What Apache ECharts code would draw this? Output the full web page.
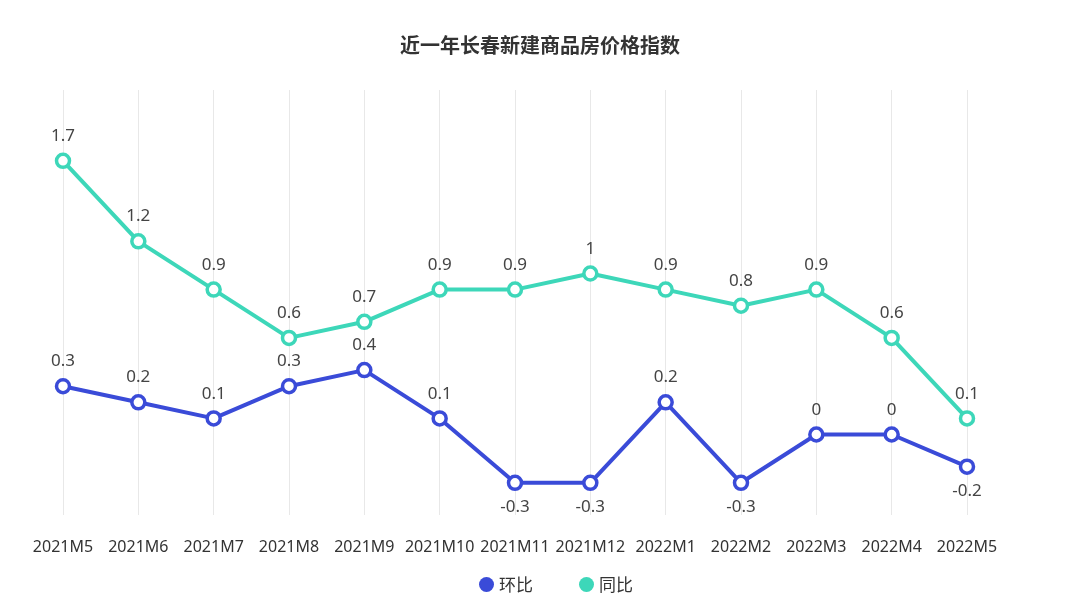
<!DOCTYPE html>
<html>
<head>
<meta charset="utf-8">
<script src="https://cdn.jsdelivr.net/npm/echarts@6/dist/echarts.min.js"></script>
<style>
  html, body { margin: 0; padding: 0; background: #fff; }
  #chart { width: 1080px; height: 608px; }
</style>
</head>
<body>
<div id="chart"></div>
<script>
const months = ['2021M5', '2021M6', '2021M7', '2021M8', '2021M9', '2021M10', '2021M11',
  '2021M12', '2022M1', '2022M2', '2022M3', '2022M4', '2022M5']
const momValues = [0.3, 0.2, 0.1, 0.3, 0.4, 0.1, -0.3, -0.3, 0.2, -0.3, 0, 0, -0.2]
const yoyValues = [1.7, 1.2, 0.9, 0.6, 0.7, 0.9, 0.9, 1, 0.9, 0.8, 0.9, 0.6, 0.1]

const MOM_COLOR = '#3a4bd8'
const YOY_COLOR = '#3dd7b9'

const chart = echarts.init(document.getElementById('chart'))

const toItems = values => values.map(v => ({
  value: v,
  label: { position: v < 0 ? 'bottom' : 'top' }
}))

const lineSeries = (name, values, color) => ({
  name,
  type: 'line',
  data: toItems(values),
  symbol: 'circle',
  symbolSize: 13,
  lineStyle: { width: 4, color },
  itemStyle: { color: '#fff', borderWidth: 3.5, borderColor: color },
  label: {
    show: true,
    distance: 8,
    fontSize: 17,
    color: '#444',
    fontFamily: 'Noto Sans'
  }
})

chart.setOption({
  backgroundColor: '#fff',
  title: {
    text: '近一年长春新建商品房价格指数',
    left: 'center',
    top: 30,
    textStyle: {
      fontSize: 20,
      fontWeight: 'bold',
      color: '#333',
      fontFamily: 'Noto Sans CJK SC'
    }
  },
  legend: {
    data: [
      { name: '环比', itemStyle: { color: MOM_COLOR, borderWidth: 0 } },
      { name: '同比', itemStyle: { color: YOY_COLOR, borderWidth: 0 } }
    ],
    bottom: 10,
    left: 474,
    icon: 'circle',
    itemWidth: 15,
    itemHeight: 15,
    itemGap: 46,
    textStyle: { fontSize: 17, color: '#333', fontFamily: 'Noto Sans CJK SC' }
  },
  grid: {
    left: 63,
    right: 113,
    top: 90,
    bottom: 93
  },
  xAxis: {
    type: 'category',
    data: months,
    boundaryGap: false,
    axisLine: { show: false },
    axisTick: { show: false },
    axisLabel: {
      interval: 0,
      margin: 24,
      fontSize: 16,
      color: '#333',
      fontFamily: 'Noto Sans'
    },
    splitLine: {
      show: true,
      lineStyle: { color: '#e8e8e8', width: 1 }
    }
  },
  yAxis: {
    type: 'value',
    min: -0.5,
    max: 2.14,
    show: false
  },
  series: [
    lineSeries('环比', momValues, MOM_COLOR),
    lineSeries('同比', yoyValues, YOY_COLOR)
  ]
})
</script>
</body>
</html>
